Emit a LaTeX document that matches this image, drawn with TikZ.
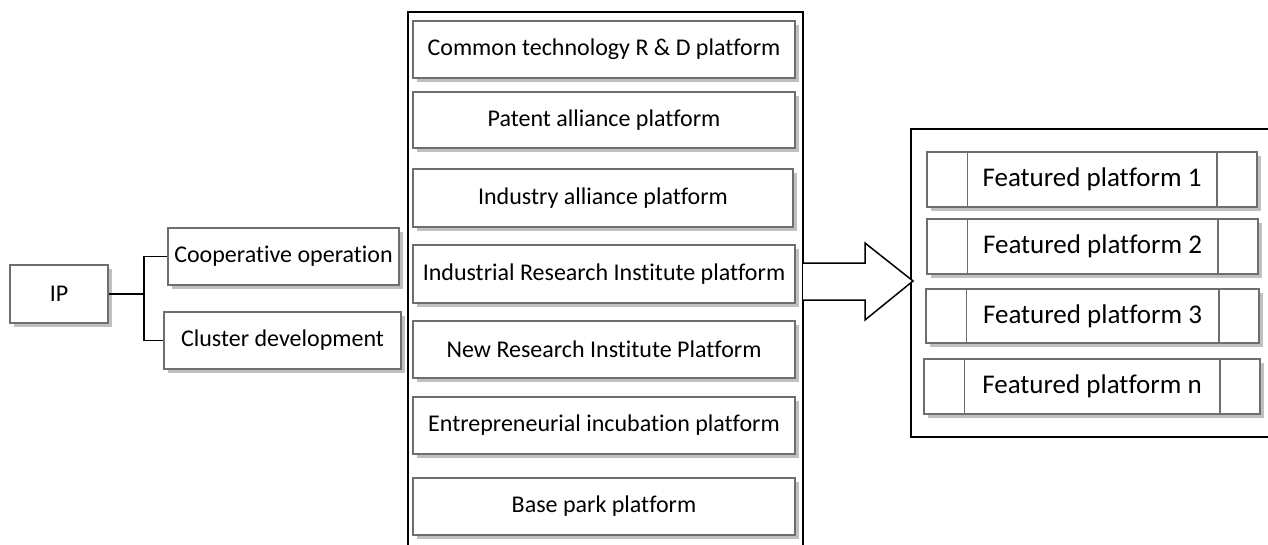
\documentclass[tikz,border=0pt]{standalone}
\usepackage{fontspec}
\setmainfont{Carlito}[Ligatures = NoCommon]
\usetikzlibrary{shadows,calc}
\definecolor{boxline}{HTML}{6E6E6E}
\definecolor{boxshade}{HTML}{C0C0C0}
\tikzset{
	pbox/.style = {draw = boxline, line width = 1.5pt, fill = white, inner sep = 0pt,
		drop shadow = {shadow xshift = 4pt, shadow yshift = -4pt, fill = boxshade, opacity = 1},
		font = \fontsize{24}{28}\selectfont},
	fbox/.style = {pbox, font = \fontsize{27}{32}\selectfont},
	frame/.style = {draw = black, line width = 1.5pt},
	link/.style = {draw = black, line width = 1.5pt}
}
\begin{document}
	\begin{tikzpicture}[x = 1pt, y = -1pt]
		\useasboundingbox (0,0) rectangle (1268,544);
		\draw[frame] (408,12) rectangle (803,548);
		\draw[frame] (911,129) rectangle (1275,437);
		\node[pbox, minimum width = 98pt, minimum height = 58pt] (IP) at (59,294) {IP};
		\node[pbox, minimum width = 231pt, minimum height = 57pt] (coop) at (283.5,256.5) {Cooperative operation};
		\node[pbox, minimum width = 237pt, minimum height = 57pt] (clus) at (282.5,340.5) {Cluster development};
		\coordinate (jn) at (144,294);
		\draw[link] (IP.east) -- (jn);
		\draw[link] (coop.west) -| (jn) |- (clus.west);
		\node[pbox, minimum width = 382pt, minimum height = 57pt] (p1) at (604,49.5) {Common technology R \& D platform};
		\node[pbox, minimum width = 382pt, minimum height = 56pt] (p2) at (604,120) {Patent alliance platform};
		\node[pbox, minimum width = 380pt, minimum height = 58pt] (p3) at (603,198) {Industry alliance platform};
		\node[pbox, minimum width = 382pt, minimum height = 58pt] (p4) at (604,274) {Industrial Research Institute platform};
		\node[pbox, minimum width = 382pt, minimum height = 57pt] (p5) at (604,349.5) {New Research Institute Platform};
		\node[pbox, minimum width = 382pt, minimum height = 57pt] (p6) at (604,425.5) {Entrepreneurial incubation platform};
		\node[pbox, minimum width = 382pt, minimum height = 57pt] (p7) at (604,506.5) {Base park platform};
		\coordinate (tip) at (913,281);
		\draw[link, fill = white] (803,263) -- (865,263) -- (865,243) -- (tip) -- (865,320) -- (865,300) -- (803,300);
		\node[fbox, minimum width = 330pt, minimum height = 55pt] (f1) at (1092,179.5) {Featured platform 1};
		\node[fbox, minimum width = 331pt, minimum height = 55pt] (f2) at (1092.5,246.5) {Featured platform 2};
		\node[fbox, minimum width = 333pt, minimum height = 54pt] (f3) at (1092.5,316) {Featured platform 3};
		\node[fbox, minimum width = 336pt, minimum height = 55pt] (fn) at (1092,386.5) {Featured platform n};
		\foreach \f in {f1,f2,f3,fn}{
			\draw[boxline, line width = 1.5pt] ($(\f.north west)+(41,0)$) -- ($(\f.south west)+(41,0)$);
			\draw[boxline, line width = 1.5pt] ($(\f.north east)+(-41,0)$) -- ($(\f.south east)+(-41,0)$);
		}
	\end{tikzpicture}
\end{document}
